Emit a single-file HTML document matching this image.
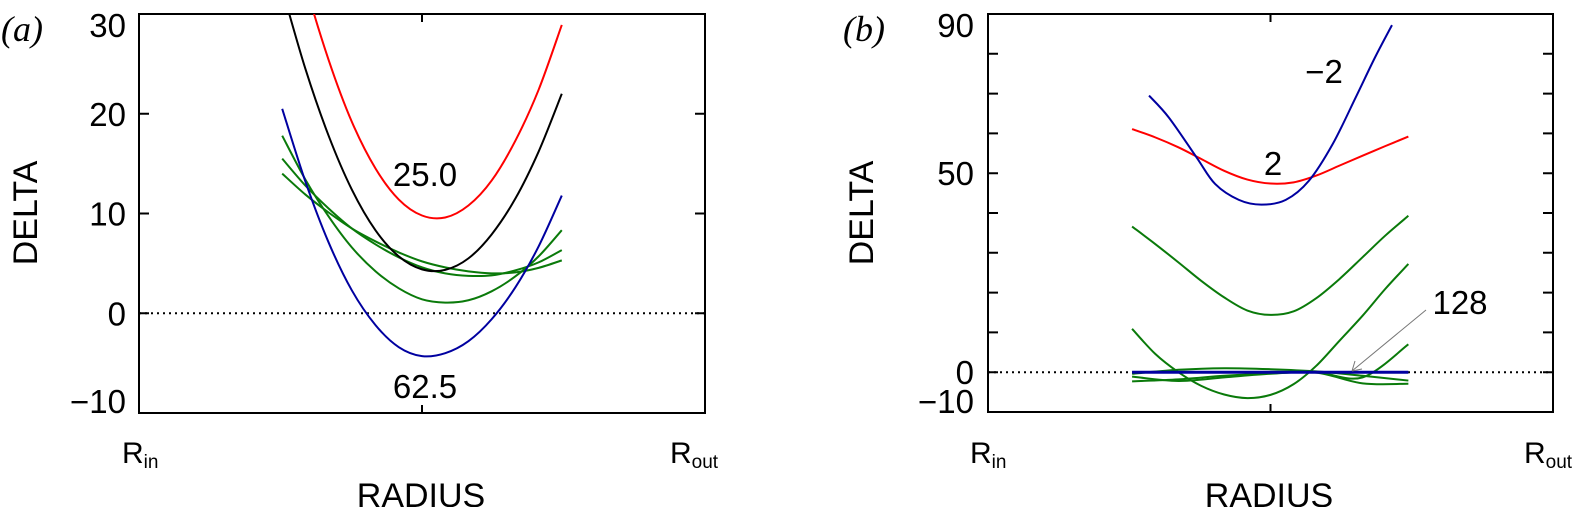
<!DOCTYPE html>
<html><head><meta charset="utf-8"><style>
html,body{margin:0;padding:0;background:#fff;}
svg{display:block;}
text{font-family:"Liberation Sans",sans-serif;fill:#000;}
</style></head>
<body>
<svg id="fig" width="1576" height="507" viewBox="0 0 1576 507" xmlns="http://www.w3.org/2000/svg">
<defs>
<clipPath id="clipA"><rect x="139" y="14" width="566" height="399"/></clipPath>
<clipPath id="clipB"><rect x="988" y="14" width="565" height="398"/></clipPath>
</defs>
<g id="panelA"></g>
<g id="panelB"></g>
</svg>
<script>
// ---- Panel (a) data ----
const xA = [0.253,0.294,0.335,0.376,0.418,0.459,0.500,0.541,0.582,0.623,0.665,0.706,0.747];
const aBlue  = [20.5,13.2,7.1,2.3,-1.2,-3.4,-4.3,-4.0,-2.8,-0.6,2.6,6.7,11.8];
const aRed   = [42,33.0,25.4,19.2,14.5,11.4,9.8,9.6,10.8,13.3,17.3,22.4,28.9];
const aBlack = [32.5,24.5,17.8,12.4,8.3,5.7,4.4,4.35,5.5,7.9,11.5,16.2,22.0];
const aGreen1 = [17.8,13.4,9.7,6.6,4.2,2.5,1.4,1.07,1.3,2.2,3.7,5.7,8.33];
const aGreen2 = [15.5,12.8,10.5,8.5,6.9,5.6,4.6,4.0,3.75,3.8,4.3,5.1,6.33];
const aGreen3 = [14.0,11.9,10.1,8.5,7.2,6.1,5.2,4.6,4.2,4.0,4.1,4.55,5.3];
const aTicks = [30,20,10,0,-10];
// ---- Panel (b) data ----
const xB = [0.255,0.296,0.337,0.377,0.418,0.459,0.500,0.541,0.581,0.622,0.663,0.703,0.744];
const bRed    = [61.1,59.0,56.5,53.6,50.6,48.4,47.4,47.7,49.4,51.9,54.4,56.8,59.2];
const bGreen1 = [36.6,32.2,27.6,23.0,18.8,15.5,14.4,15.3,18.6,23.4,28.9,34.3,39.3];
const bGreen2 = [10.9,4.6,0.0,-3.4,-5.6,-6.5,-5.7,-3.0,1.6,7.9,14.2,20.9,27.2];
const xBBlue = [0.285,0.320,0.369,0.402,0.444,0.484,0.527,0.568,0.610,0.651,0.685,0.715];
const bBlue  = [69.5,64.0,54.0,47.3,43.3,42.1,43.3,48.1,57.3,69.1,79.1,87.2];
const xBSmall = [0.255,0.337,0.418,0.500,0.581,0.663,0.744];
const bGreenA = [-0.4,0.6,1.0,0.75,0.2,-0.9,-2.1];
const bGreenB = [-2.3,-1.8,-0.9,-0.3,0.0,-1.3,7.0];
const bGreenC = [-1.1,-2.2,-1.3,-0.4,-0.1,-2.8,-2.9];
const bFlat  = [0,0,0,0,0,0,0];
const bTickLabels = [90,50,0,-10];
const bMinor = [80,70,60,40,30,20,10];

const NS="http://www.w3.org/2000/svg";
function mk(tag,attrs,parent){const e=document.createElementNS(NS,tag);for(const k in attrs)e.setAttribute(k,attrs[k]);parent.appendChild(e);return e;}
function smooth(pts){let d="M"+pts[0][0].toFixed(2)+","+pts[0][1].toFixed(2);
 for(let i=0;i<pts.length-1;i++){const p0=pts[Math.max(i-1,0)],p1=pts[i],p2=pts[i+1],p3=pts[Math.min(i+2,pts.length-1)];
  const c1=[p1[0]+(p2[0]-p0[0])/6,p1[1]+(p2[1]-p0[1])/6],c2=[p2[0]-(p3[0]-p1[0])/6,p2[1]-(p3[1]-p1[1])/6];
  d+=" C"+c1[0].toFixed(2)+","+c1[1].toFixed(2)+" "+c2[0].toFixed(2)+","+c2[1].toFixed(2)+" "+p2[0].toFixed(2)+","+p2[1].toFixed(2);}
 return d;}
function txt(parent,x,y,s,size,anchor,name){const t=mk("text",{x:x,y:y,"font-size":size,"text-anchor":anchor||"middle"},parent);t.textContent=s;
 
 
 return t;}

function panel(g,L,T,W,H,ymin,ymax,tag){
 const sx=f=>L+f*W, sy=v=>T+(ymax-v)/(ymax-ymin)*H;
 const frame=mk("rect",{x:L,y:T,width:W,height:H,fill:"none",stroke:"#000","stroke-width":2},g);
 
 
 const zl=mk("line",{x1:L,x2:L+W,y1:sy(0),y2:sy(0),stroke:"#000","stroke-width":2,"stroke-dasharray":"2,4"},g);
 
 
 const tk=mk("path",{d:"M"+sx(0.5)+","+T+"v8M"+sx(0.5)+","+(T+H)+"v-8",stroke:"#000","stroke-width":2,fill:"none"},g);
 
 
 return {sx,sy};
}
function yTick(g,L,W,y,name){const p=mk("path",{d:"M"+L+","+y+"h10M"+(L+W)+","+y+"h-10",stroke:"#000","stroke-width":2,fill:"none"},g);
 
 }
function series(g,xs,ys,ax,color,clip,name,w){const pts=xs.map((f,i)=>[ax.sx(f),ax.sy(ys[i])]);
 const p=mk("path",{d:smooth(pts),fill:"none",stroke:color,"stroke-width":w||2,"clip-path":"url(#"+clip+")"},g);
 
 }

// Panel A
const gA=document.getElementById("panelA");
const A=panel(gA,139,14,566,399,-10,30);
aTicks.forEach((v,i)=>{ if(v<30&&v>-10) yTick(gA,139,566,A.sy(v),"y-tick-a");
 let by=A.sy(v)+12; if(v===30)by=37; if(v===-10)by=413;
 txt(gA,126,by,(v<0?"\u2212"+(-v):String(v)),33,"end","y-tick-label-a");});
series(gA,xA,aGreen3,A,"#0a7a0a","clipA","green-curve-3-a");
series(gA,xA,aGreen2,A,"#0a7a0a","clipA","green-curve-2-a");
series(gA,xA,aGreen1,A,"#0a7a0a","clipA","green-curve-1-a");
series(gA,xA,aBlack,A,"#000","clipA","black-curve-a");
series(gA,xA,aRed,A,"#ff0000","clipA","red-curve-25");
series(gA,xA,aBlue,A,"#0000a0","clipA","blue-curve-62-5");
txt(gA,425,186,"25.0",33,"middle","label-25-0");
txt(gA,425,398,"62.5",33,"middle","label-62-5");
txt(gA,22,41,"(a)",36,"middle","panel-label-a").setAttribute("style","font-family:'Liberation Serif',serif;font-style:italic");
const dA=txt(gA,0,0,"DELTA",34,"middle","y-axis-title-a");dA.setAttribute("transform","translate(37,213) rotate(-90)");
txt(gA,421,507,"RADIUS",34,"middle","x-axis-title-a");
{const t=txt(gA,122,463,"R",30,"start","x-label-rin-a");const s=mk("tspan",{"font-size":19,dy:5},t);s.textContent="in";}
{const t=txt(gA,670,463,"R",30,"start","x-label-rout-a");const s=mk("tspan",{"font-size":19,dy:5},t);s.textContent="out";}

// Panel B
const gB=document.getElementById("panelB");
const B=panel(gB,988,14,565,398,-10,90);
bMinor.concat([50,0]).forEach(v=>yTick(gB,988,565,B.sy(v),"y-tick-b"));
bTickLabels.forEach(v=>{let by=B.sy(v)+12; if(v===90)by=37; if(v===-10)by=413;
 txt(gB,974,by,(v<0?"\u2212"+(-v):String(v)),33,"end","y-tick-label-b");});
series(gB,xBSmall,bGreenA,B,"#0a7a0a","clipB","green-curve-a-b");
series(gB,xBSmall,bGreenB,B,"#0a7a0a","clipB","green-curve-b-b");
series(gB,xBSmall,bGreenC,B,"#0a7a0a","clipB","green-curve-c-b");
series(gB,xB,bGreen2,B,"#0a7a0a","clipB","green-curve-2-b");
series(gB,xB,bGreen1,B,"#0a7a0a","clipB","green-curve-1-b");
series(gB,xBSmall,bFlat,B,"#0000a0","clipB","blue-curve-128",3);
series(gB,xB,bRed,B,"#ff0000","clipB","red-curve-2");
series(gB,xBBlue,bBlue,B,"#0000a0","clipB","blue-curve-minus-2");
txt(gB,1324,83,"\u22122",33,"middle","label-minus-2");
txt(gB,1273,175,"2",33,"middle","label-2");
txt(gB,1460,314,"128",33,"middle","label-128");
{const a=mk("path",{d:"M1426,310 L1352,371 M1352,371 l3,-10 M1352,371 l10,-2",stroke:"#777","stroke-width":1,fill:"none"},gB);
 
 }
txt(gB,864,41,"(b)",36,"middle","panel-label-b").setAttribute("style","font-family:'Liberation Serif',serif;font-style:italic");
const dB=txt(gB,0,0,"DELTA",34,"middle","y-axis-title-b");dB.setAttribute("transform","translate(873,213) rotate(-90)");
txt(gB,1269,507,"RADIUS",34,"middle","x-axis-title-b");
{const t=txt(gB,970,463,"R",30,"start","x-label-rin-b");const s=mk("tspan",{"font-size":19,dy:5},t);s.textContent="in";}
{const t=txt(gB,1524,463,"R",30,"start","x-label-rout-b");const s=mk("tspan",{"font-size":19,dy:5},t);s.textContent="out";}
</script>
</body></html>
